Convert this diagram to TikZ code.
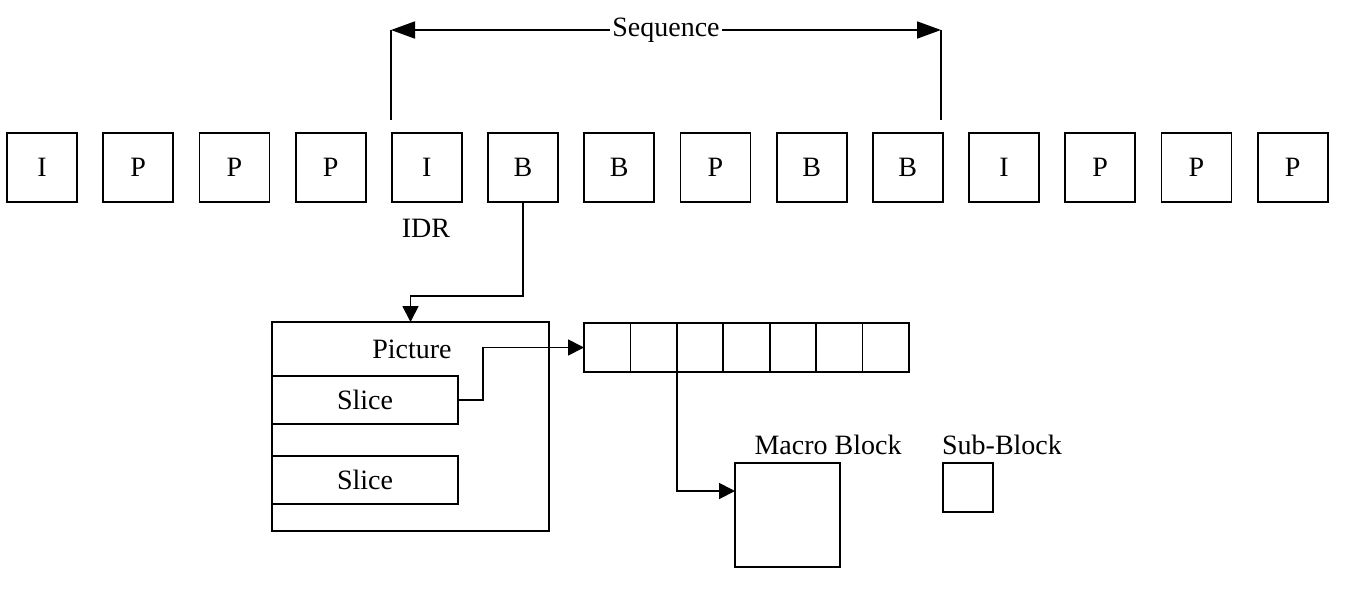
\documentclass[tikz,border=0pt]{standalone}
\usepackage{fontspec}
\setmainfont{Liberation Serif}
\usetikzlibrary{positioning,arrows.meta}

\begin{document}
\begin{tikzpicture}[
    x=0.5pt, y=-0.5pt,
    line width=0.9pt,
    font=\fontsize{14}{16}\selectfont,
    every node/.style={inner sep=0pt, outer sep=0pt},
    frame/.style={draw, minimum width=35pt, minimum height=34.5pt},
    slicebox/.style={draw, minimum width=93pt, minimum height=24pt},
    cell/.style={draw, minimum width=23.2pt, minimum height=24.5pt},
    arr/.style={-{Triangle[length=8pt,width=8pt]}},
    bigarr/.style={{Triangle[length=12pt,width=8.5pt]}-{Triangle[length=12pt,width=8.5pt]}}
]
    \useasboundingbox (0,0) rectangle (1348,590);

    % row of frames
    \foreach \t [count=\i] in {I,P,P,P,I,B,B,P,B,B,I,P,P,P}
        \node[frame] (f\i) at ({42+(\i-1)*96.2}, 167.5) {\t};
    \node (idr) at (426,228) {IDR};

    % sequence span over frames 5..10
    \coordinate (sqL) at (391,30);
    \coordinate (sqR) at (941,30);
    \coordinate (sqLb) at (391,120);
    \coordinate (sqRb) at (941,120);
    \draw (sqLb) -- (sqL);
    \draw (sqRb) -- (sqR);
    \draw[bigarr] (sqL) -- node[fill=white, inner sep=1pt] {Sequence} (sqR);

    % picture with slices
    \node[draw, minimum width=138.5pt, minimum height=104.5pt] (pic) at (410.5,426.5) {};
    \node (piclbl) at (412,349) {Picture};
    \node[slicebox] (s1) at (365,400) {Slice};
    \node[slicebox] (s2) at (365,480) {Slice};

    % macro blocks of a slice
    \foreach \i in {1,...,7}
        \node[cell] (c\i) at ({607.2+(\i-1)*46.4}, 347.5) {};

    \node[draw, minimum width=52.5pt, minimum height=52pt] (mb) at (787.5,515) {};
    \node (mblbl) at (828,445) {Macro Block};
    \node[draw, minimum width=25pt, minimum height=24.5pt] (sb) at (968,487.5) {};
    \node (sblbl) at (1002,445) {Sub-Block};

    % connectors
    \coordinate (bend1) at ([yshift=-47pt]f6.south);
    \draw[arr] (f6.south) -- (bend1) -| (pic.north);
    \draw[arr] (s1.east) -- ++(25,0) |- (c1.west);
    \draw[arr] (c3.south west) |- ([yshift=12pt]mb.west);
\end{tikzpicture}
\end{document}
